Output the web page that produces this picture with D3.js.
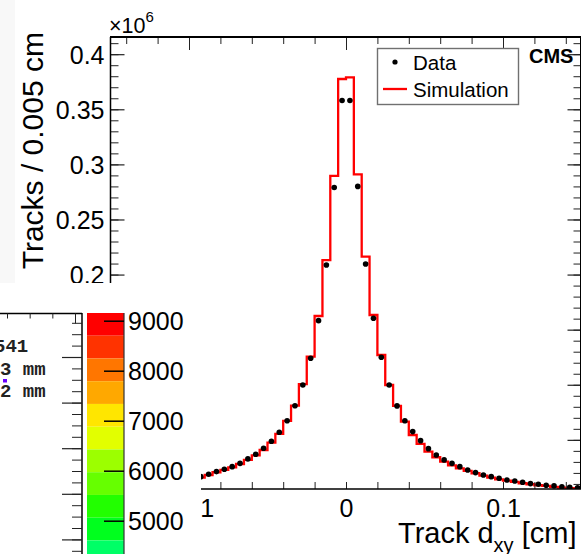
<!DOCTYPE html>
<html>
<head>
<meta charset="utf-8">
<script src="https://cdn.jsdelivr.net/npm/d3@7"></script>
<style>
  body { margin: 0; background: #fff; }
  svg { display: block; font-family: "Liberation Sans", Arial, sans-serif; }
</style>
</head>
<body>
<svg id="chart" width="581" height="554"></svg>
<script>
// histogram binning (cm)
const binLow = -0.15;
const binWidth = 0.005;

// tracks per bin, x10^6 (left bins under the inset are estimated)
const dataValues = [
  0.0066, 0.0070, 0.0075, 0.0082, 0.0088, 0.0097, 0.0103, 0.0115, 0.0127, 0.0136,
  0.0151, 0.0166, 0.0188, 0.0212, 0.0233, 0.0257, 0.0287, 0.0327, 0.0369, 0.0424,
  0.0487, 0.0569, 0.0674, 0.0810, 0.0998, 0.1240, 0.1582, 0.2087, 0.2790, 0.3580,
  0.3580, 0.2800, 0.2096, 0.1603, 0.1249, 0.0998, 0.0808, 0.0674, 0.0575, 0.0493,
  0.0420, 0.0363, 0.0318, 0.0287, 0.0257, 0.0227, 0.0203, 0.0181, 0.0166, 0.0151,
  0.0136, 0.0127, 0.0115, 0.0103, 0.0097, 0.0088, 0.0082, 0.0075, 0.0070, 0.0066
];
const simValues = [
  0.0057, 0.0061, 0.0066, 0.0073, 0.0082, 0.0088, 0.0097, 0.0106, 0.0118, 0.0130,
  0.0142, 0.0157, 0.0181, 0.0206, 0.0227, 0.0251, 0.0281, 0.0318, 0.0360, 0.0408,
  0.0475, 0.0554, 0.0672, 0.0811, 0.1005, 0.1255, 0.1624, 0.2132, 0.2895, 0.3775,
  0.3790, 0.2910, 0.2163, 0.1633, 0.1270, 0.0998, 0.0808, 0.0665, 0.0544, 0.0463,
  0.0393, 0.0342, 0.0302, 0.0269, 0.0242, 0.0218, 0.0197, 0.0175, 0.0157, 0.0142,
  0.0130, 0.0118, 0.0106, 0.0097, 0.0088, 0.0082, 0.0073, 0.0066, 0.0061, 0.0057
];

const yMajorTicks = [0.05, 0.1, 0.15, 0.2, 0.25, 0.3, 0.35, 0.4];
const xMajorTicks = [-0.1, 0, 0.1];
const legendLabels = ["Data", "Simulation"];

// inset colour scale
const colorLevels = [9154, 8700, 8245, 7790, 7335, 6880, 6425, 5970, 5515, 5060, 4605, 4150];
const colorBands = ["#ff0000", "#ff3300", "#ff7600", "#ffa800", "#ffe600", "#e2ff00",
                    "#9cff00", "#66ff00", "#22ff00", "#00ff1e", "#00ff66"];
const colorTicks = [9000, 8000, 7000, 6000, 5000];
const insetLines = ["541", "23 mm", "62 mm"];

const svg = d3.select("#chart");

const x = d3.scaleLinear().domain([-0.15, 0.15]).range([110.5, 581.5]);
const y = d3.scaleLinear().domain([0.0054, 0.4156]).range([489, 37]);

// faint strip on the far left
svg.append("rect").attr("x", 0).attr("y", 0).attr("width", 15).attr("height", 283)
  .attr("fill", "#f8f8f8");

svg.append("clipPath").attr("id", "frame")
  .append("rect").attr("x", 110).attr("y", 37).attr("width", 472).attr("height", 452);
svg.append("clipPath").attr("id", "visible")
  .append("rect").attr("x", 201).attr("y", 0).attr("width", 400).attr("height", 554);

// simulation histogram
const pts = simValues.map((v, i) => [binLow + i * binWidth, v]);
pts.push([binLow + simValues.length * binWidth, simValues[simValues.length - 1]]);

const step = d3.line()
  .x(d => x(d[0]))
  .y(d => y(d[1]))
  .curve(d3.curveStepAfter);

svg.append("path")
  .datum(pts)
  .attr("clip-path", "url(#frame)")
  .attr("d", step)
  .attr("fill", "none")
  .attr("stroke", "#ff0000")
  .attr("stroke-width", 2.3);

// data points
svg.append("g").attr("clip-path", "url(#frame)")
  .selectAll("circle")
  .data(dataValues)
  .enter()
  .append("circle")
  .attr("cx", (d, i) => x(binLow + (i + 0.5) * binWidth))
  .attr("cy", d => y(d))
  .attr("r", 2.8)
  .attr("fill", "black");

// axes
function styleTicks(g, w) {
  g.select(".domain").remove();
  g.selectAll(".tick line").attr("stroke", "#222").attr("stroke-width", w);
}

const xMinor = d3.range(-0.14, 0.15, 0.02);
const yMinor = d3.range(0.01, 0.415, 0.01);

svg.append("g").attr("transform", "translate(0,37)")
  .call(d3.axisBottom(x).tickValues(xMinor).tickSize(7).tickFormat(""))
  .call(g => styleTicks(g, 1));
svg.append("g").attr("transform", "translate(0,37)")
  .call(d3.axisBottom(x).tickValues(xMajorTicks).tickSize(13).tickFormat(""))
  .call(g => styleTicks(g, 1));

svg.append("g").attr("transform", "translate(0,489)")
  .call(d3.axisBottom(x).tickValues(xMinor).tickSize(-7).tickFormat(""))
  .call(g => styleTicks(g, 1));
svg.append("g").attr("transform", "translate(0,489)")
  .attr("clip-path", "url(#visible)")
  .call(d3.axisBottom(x).tickValues(xMajorTicks).tickSize(-13).tickPadding(10)
    .tickFormat(d3.format("~g")))
  .call(g => styleTicks(g, 1))
  .call(g => g.selectAll("text").attr("font-size", 25).attr("fill", "black")
    .attr("font-family", "Liberation Sans, Arial, sans-serif"));

svg.append("g").attr("transform", "translate(110.5,0)")
  .call(d3.axisLeft(y).tickValues(yMinor).tickSize(-8).tickFormat(""))
  .call(g => styleTicks(g, 1));
svg.append("g").attr("transform", "translate(110.5,0)")
  .call(d3.axisLeft(y).tickValues(yMajorTicks).tickSize(-14).tickPadding(6)
    .tickFormat(d3.format("~g")))
  .call(g => styleTicks(g, 1.2))
  .call(g => g.selectAll("text").attr("font-size", 25).attr("fill", "black")
    .attr("dy", "0.36em").attr("font-family", "Liberation Sans, Arial, sans-serif"));

svg.append("g").attr("transform", "translate(580.5,0)")
  .call(d3.axisRight(y).tickValues(yMinor).tickSize(-7).tickFormat(""))
  .call(g => styleTicks(g, 1));
svg.append("g").attr("transform", "translate(580.5,0)")
  .call(d3.axisRight(y).tickValues(yMajorTicks).tickSize(-13).tickFormat(""))
  .call(g => styleTicks(g, 1.2));

// frame
svg.append("line").attr("x1", 110).attr("x2", 581).attr("y1", 37).attr("y2", 37)
  .attr("stroke", "black").attr("stroke-width", 2);
svg.append("line").attr("x1", 110.5).attr("x2", 110.5).attr("y1", 37).attr("y2", 489)
  .attr("stroke", "black").attr("stroke-width", 1.5);
svg.append("line").attr("x1", 110).attr("x2", 581).attr("y1", 489).attr("y2", 489)
  .attr("stroke", "black").attr("stroke-width", 1.6);
svg.append("line").attr("x1", 580.5).attr("x2", 580.5).attr("y1", 37).attr("y2", 489)
  .attr("stroke", "black").attr("stroke-width", 1);

// axis titles
svg.append("text")
  .attr("transform", "translate(43,32) rotate(-90)")
  .attr("text-anchor", "end")
  .attr("font-size", 30)
  .text("Tracks / 0.005 cm");

const xTitle = svg.append("text").attr("x", 398).attr("y", 543).attr("font-size", 29);
xTitle.append("tspan").text("Track d");
xTitle.append("tspan").attr("font-size", 20).attr("dy", 9).text("xy");
xTitle.append("tspan").attr("dy", -9).text(" [cm]");

const mult = svg.append("text").attr("x", 109).attr("y", 33).attr("font-size", 21.5);
mult.append("tspan").text("\u00d710");
mult.append("tspan").attr("font-size", 15).attr("dy", -11).text("6");

svg.append("text").attr("x", 529).attr("y", 63)
  .attr("font-size", 20).attr("font-weight", "bold").text("CMS");

// legend
const legend = svg.append("g");
legend.append("rect").attr("x", 377.5).attr("y", 48.5).attr("width", 141).attr("height", 56)
  .attr("fill", "white").attr("stroke", "#707070").attr("stroke-width", 1.4);
legend.append("circle").attr("cx", 395).attr("cy", 62).attr("r", 2.6).attr("fill", "black");
legend.append("line").attr("x1", 383).attr("x2", 407).attr("y1", 89).attr("y2", 89)
  .attr("stroke", "#ff0000").attr("stroke-width", 2.3);
legend.selectAll("text.lab")
  .data(legendLabels)
  .enter()
  .append("text")
  .attr("class", "lab")
  .attr("x", 413)
  .attr("y", (d, i) => 70 + i * 27)
  .attr("font-size", 20.5)
  .text(d => d);

// ---- inset panel in the lower left ----
const inset = svg.append("g");
inset.append("rect").attr("x", 0).attr("y", 283).attr("width", 201).attr("height", 271)
  .attr("fill", "white");

const panelX = d3.scaleLinear().domain([0, 3]).range([7, 75]);
const panelY = d3.scaleLinear().domain([4, 0]).range([357, 539.4]);

inset.append("line").attr("x1", 0).attr("x2", 82).attr("y1", 313.5).attr("y2", 313.5)
  .attr("stroke", "black").attr("stroke-width", 1.5);
inset.append("line").attr("x1", 82).attr("x2", 82).attr("y1", 313).attr("y2", 554)
  .attr("stroke", "black").attr("stroke-width", 1.5);

inset.append("g").attr("transform", "translate(0,313.5)")
  .call(d3.axisBottom(panelX).tickValues([0, 1, 2]).tickSize(5).tickFormat(""))
  .call(g => styleTicks(g, 1));
inset.append("g").attr("transform", "translate(0,313.5)")
  .call(d3.axisBottom(panelX).tickValues([3]).tickSize(10).tickFormat(""))
  .call(g => styleTicks(g, 1));

inset.append("g").attr("transform", "translate(82,0)")
  .call(d3.axisRight(panelY).tickValues(d3.range(-0.25, 5.0, 0.25)).tickSize(-10).tickFormat(""))
  .call(g => styleTicks(g, 1));
inset.append("g").attr("transform", "translate(82,0)")
  .call(d3.axisRight(panelY).tickValues([0, 1, 2, 3, 4]).tickSize(-20).tickFormat(""))
  .call(g => styleTicks(g, 1.2));

inset.selectAll("text.info")
  .data(insetLines)
  .enter()
  .append("text")
  .attr("class", "info")
  .attr("x", (d, i) => i === 0 ? -6 : -11.4)
  .attr("y", (d, i) => [352, 375, 397][i])
  .attr("font-family", "Liberation Mono, DejaVu Sans Mono, monospace")
  .attr("font-weight", "bold")
  .attr("font-size", 19)
  .attr("fill", "#222")
  .text(d => d);

inset.append("rect").attr("x", 3).attr("y", 379).attr("width", 4).attr("height", 3.5)
  .attr("fill", "#6a00ff");

// colour bar
const cy = d3.scaleLinear().domain([9000, 5000]).range([320.7, 520.7]);
inset.selectAll("rect.band")
  .data(colorBands)
  .enter()
  .append("rect")
  .attr("class", "band")
  .attr("x", 87)
  .attr("width", 37)
  .attr("y", (d, i) => cy(colorLevels[i]))
  .attr("height", (d, i) => cy(colorLevels[i + 1]) - cy(colorLevels[i]))
  .attr("fill", d => d);

inset.append("line").attr("x1", 124).attr("x2", 124).attr("y1", 313).attr("y2", 554)
  .attr("stroke", "#333").attr("stroke-width", 1.2);

inset.append("g").attr("transform", "translate(124,0)")
  .call(d3.axisRight(cy).tickValues(colorTicks).tickSize(-20).tickPadding(4).tickFormat(d3.format("d")))
  .call(g => styleTicks(g, 1.5))
  .call(g => g.selectAll(".tick line").attr("stroke", "black"))
  .call(g => g.selectAll("text").attr("font-size", 25).attr("fill", "black")
    .attr("dy", "0.36em").attr("font-family", "Liberation Sans, Arial, sans-serif"));
</script>
</body>
</html>
